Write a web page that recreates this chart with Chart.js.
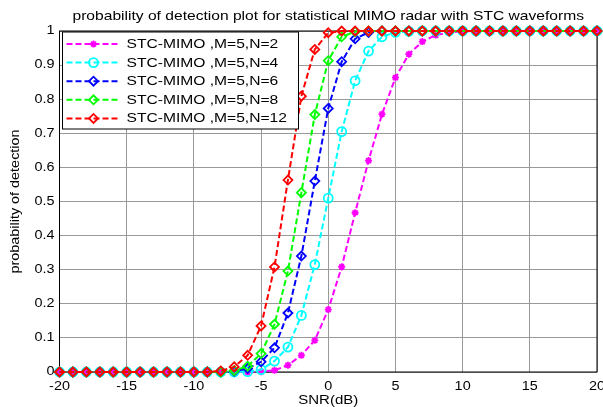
<!DOCTYPE html>
<html>
<head>
<meta charset="utf-8">
<title>probability of detection</title>
<script src="https://cdn.jsdelivr.net/npm/chart.js@4/dist/chart.umd.min.js"></script>
<style>
    html, body { margin: 0; padding: 0; background: #fff; }
    #pdChart { display: block; }
</style>
</head>
<body>
<canvas id="pdChart" width="603" height="407"></canvas>
<script>
// SNR in dB
const snrDb = [-20, -19, -18, -17, -16, -15, -14, -13, -12, -11, -10, -9, -8, -7, -6, -5, -4, -3, -2, -1,
    0, 1, 2, 3, 4, 5, 6, 7, 8, 9, 10, 11, 12, 13, 14, 15, 16, 17, 18, 19, 20];

// probability of detection
const pdN2 = [0, 0, 0, 0, 0, 0, 0, 0, 0, 0, 0, 0, 0, 0, 0,
    0.001, 0.005, 0.02, 0.049, 0.093, 0.183, 0.308, 0.467, 0.62, 0.756, 0.863, 0.932, 0.969, 0.988, 0.996, 0.999,
    1, 1, 1, 1, 1, 1, 1, 1, 1, 1];
const pdN4 = [0, 0, 0, 0, 0, 0, 0, 0, 0, 0, 0, 0, 0, 0,
    0.001, 0.007, 0.032, 0.073, 0.166, 0.315, 0.51, 0.705, 0.854, 0.941, 0.983, 0.996, 0.999,
    1, 1, 1, 1, 1, 1, 1, 1, 1, 1, 1, 1, 1, 1];
const pdN6 = [0, 0, 0, 0, 0, 0, 0, 0, 0, 0, 0, 0, 0,
    0.002, 0.01, 0.03, 0.071, 0.173, 0.34, 0.56, 0.773, 0.91, 0.977, 0.996, 1,
    1, 1, 1, 1, 1, 1, 1, 1, 1, 1, 1, 1, 1, 1, 1, 1];
const pdN8 = [0, 0, 0, 0, 0, 0, 0, 0, 0, 0, 0, 0, 0,
    0.004, 0.017, 0.054, 0.14, 0.296, 0.526, 0.755, 0.913, 0.983, 0.998,
    1, 1, 1, 1, 1, 1, 1, 1, 1, 1, 1, 1, 1, 1, 1, 1, 1, 1];
const pdN12 = [0, 0, 0, 0, 0, 0, 0, 0, 0, 0, 0, 0,
    0.003, 0.015, 0.049, 0.135, 0.308, 0.563, 0.809, 0.946, 0.995,
    1, 1, 1, 1, 1, 1, 1, 1, 1, 1, 1, 1, 1, 1, 1, 1, 1, 1, 1, 1];

const seriesLabels = ["STC-MIMO ,M=5,N=2", "STC-MIMO ,M=5,N=4", "STC-MIMO ,M=5,N=6", "STC-MIMO ,M=5,N=8", "STC-MIMO ,M=5,N=12"];
const seriesData = [pdN2, pdN4, pdN6, pdN8, pdN12];
const seriesColors = ["#ff00ff", "#00ffff", "#0000ff", "#00ff00", "#ff0000"];
const seriesMarkers = ["star", "circle", "rectRot", "rectRot", "rectRot"];
const markerSizes = [3.5, 4.5, 4.5, 4.5, 4.5];

const FONT = "'Liberation Sans', Arial, sans-serif";
const textStretch = 1.2;   // the original figure's text is wide

// text in the reference is stretched sideways, do the same
const wideText = {
    id: "wideText",
    beforeDraw(chart) {
        const ctx = chart.ctx;
        if (ctx._wide) return;
        const fill = ctx.fillText;
        ctx.fillText = function (text, x, y) {
            this.save();
            this.translate(x, y);
            this.scale(textStretch, 1);
            fill.call(this, text, 0, 0);
            this.restore();
        };
        ctx._wide = true;
    }
};

// black box round the axes + matlab style legend
const axesBox = {
    id: "axesBox",
    beforeDatasetsDraw(chart) {
        const { ctx, chartArea: a } = chart;
        ctx.save();
        ctx.strokeStyle = "#000";
        ctx.lineWidth = 1;
        ctx.strokeRect(a.left, a.top, a.right - a.left, a.bottom - a.top);
        ctx.restore();
    },
    afterDatasetsDraw(chart) {
        const ctx = chart.ctx;
        const a = chart.chartArea;
        const x0 = a.left + 3, y0 = a.top + 1;
        const w = 236, h = 97, rowH = 18.6;

        ctx.save();
        ctx.fillStyle = "#fff";
        ctx.fillRect(x0, y0, w, h);
        ctx.strokeStyle = "#000";
        ctx.lineWidth = 1;
        ctx.strokeRect(x0, y0, w, h);

        chart.data.datasets.forEach((ds, i) => {
            const y = y0 + 12 + i * rowH;
            ctx.strokeStyle = ds.borderColor;
            ctx.lineWidth = 2;
            ctx.setLineDash([6, 3]);
            ctx.beginPath();
            ctx.moveTo(x0 + 4, y);
            ctx.lineTo(x0 + 57, y);
            ctx.stroke();
            ctx.setLineDash([]);
            ctx.lineWidth = 1.8;
            ctx.fillStyle = "rgba(0,0,0,0)";
            Chart.helpers.drawPoint(ctx, { pointStyle: ds.pointStyle, radius: ds.pointRadius, borderWidth: 1.8 }, x0 + 31, y);

            ctx.fillStyle = "#000";
            ctx.font = "13px " + FONT;
            ctx.textAlign = "left";
            ctx.textBaseline = "middle";
            ctx.fillText(ds.label, x0 + 64, y + 0.5);
        });
        ctx.restore();
    }
};

const datasets = seriesLabels.map((label, i) => ({
    label: label,
    data: snrDb.map((x, k) => ({ x: x, y: seriesData[i][k] })),
    borderColor: seriesColors[i],
    backgroundColor: "rgba(0,0,0,0)",
    borderWidth: 2,
    borderDash: [6, 3],
    pointStyle: seriesMarkers[i],
    pointRadius: markerSizes[i],
    pointBorderWidth: 1.8,
    pointBorderColor: seriesColors[i],
    pointBackgroundColor: "rgba(0,0,0,0)",
    fill: false,
    tension: 0,
    clip: false,
    order: seriesLabels.length - i   // last series on top, like matlab
}));

new Chart(document.getElementById("pdChart"), {
    type: "line",
    data: { datasets: datasets },
    options: {
        responsive: false,
        animation: false,
        events: [],
        layout: { autoPadding: false, padding: { top: 0, right: 0, bottom: 0, left: 0 } },
        plugins: {
            legend: { display: false },
            tooltip: { enabled: false },
            title: {
                display: true,
                fullSize: false,
                text: "probability of detection plot for statistical MIMO radar with STC waveforms",
                color: "#000",
                font: { family: FONT, size: 13, weight: "normal", lineHeight: 1 },
                padding: { top: 9.5, bottom: 8.5 }
            }
        },
        scales: {
            x: {
                type: "linear",
                min: -20,
                max: 20,
                border: { display: false },
                grid: { color: "#999", lineWidth: 1, drawTicks: false },
                ticks: {
                    stepSize: 5,
                    padding: 7,
                    color: "#000",
                    maxRotation: 0,
                    font: { family: FONT, size: 12 }
                },
                title: {
                    display: true,
                    text: "SNR(dB)",
                    color: "#000",
                    font: { family: FONT, size: 12.5, lineHeight: 1 },
                    padding: { top: 0, bottom: 0 }
                },
                afterFit(scale) {
                    scale.height = 35;
                    // the "20" label may be cut off at the edge, as in the original
                    scale.paddingLeft = 0;
                    scale.paddingRight = 6;
                }
            },
            y: {
                min: 0,
                max: 1,
                border: { display: false },
                grid: { color: "#999", lineWidth: 1, drawTicks: false },
                ticks: {
                    stepSize: 0.1,
                    padding: 5,
                    color: "#000",
                    font: { family: FONT, size: 12 },
                    callback: v => String(Number(v.toFixed(1)))
                },
                title: {
                    display: true,
                    text: "probability of detection",
                    color: "#000",
                    font: { family: FONT, size: 12, lineHeight: 1.2 },
                    padding: { top: 8, bottom: 0 }
                },
                afterFit(scale) { scale.width = 59.5; }
            }
        }
    },
    plugins: [wideText, axesBox]
});
</script>
</body>
</html>
